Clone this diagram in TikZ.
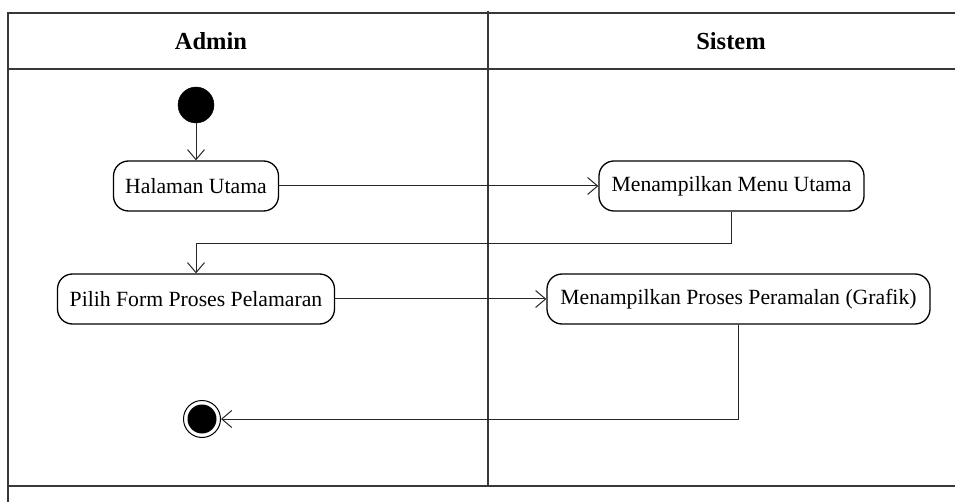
\documentclass[tikz,border=0pt]{standalone}
\usepackage{fontspec}
\setmainfont{Liberation Serif}
\usetikzlibrary{arrows.meta}

\tikzset{
  lane/.style={draw=black!78, line width=2pt},
  lanehead/.style={font=\fontsize{24.5}{29}\selectfont\bfseries, anchor=base, inner sep=0pt},
  act/.style={draw=black, rounded corners=15pt, line width=1.3pt, minimum height=50pt,
              inner sep=0pt, font=\fontsize{21.7}{26}\selectfont},
  flow/.style={draw=black!85, line width=1pt, -{Straight Barb[length=10pt,width=17pt]}},
  startstate/.style={circle, fill=black, draw=black, minimum size=36pt, inner sep=0pt},
}

\begin{document}
\begin{tikzpicture}[x=1pt, y=-1pt]
  \useasboundingbox (0,0) rectangle (955,502);

  % swimlane frame
  \coordinate (tl) at (8,13);
  \coordinate (bl) at (8,502);
  \draw[lane] (bl) -- (tl) -- (955,13);
  \draw[lane] (8,69) -- (955,69);
  \draw[lane] (8,486) -- (955,486);
  \draw[lane] (488,11) -- (488,486);

  % lane titles
  \node[lanehead] (hadmin) at (211,50) {Admin};
  \node[lanehead] (hsistem) at (731,50) {Sistem};

  % activities
  \node[startstate] (start) at (196,105) {};
  \node[act, minimum width=165pt] (halaman) at (196,186) {Halaman Utama};
  \node[act, minimum width=265pt] (menu) at (731.5,186) {Menampilkan Menu Utama};
  \node[act, minimum width=277pt] (pilih) at (196,299) {Pilih Form Proses Pelamaran};
  \node[act, minimum width=383pt] (peram) at (738.5,299) {Menampilkan Proses Peramalan (Grafik)};

  % final state
  \node[circle, draw=black, fill=white, line width=1pt, minimum size=37pt, inner sep=0pt] (end) at (202,419) {};
  \node[circle, fill=black, minimum size=29pt, inner sep=0pt] (endin) at (end.center) {};

  % control flow
  \coordinate (k1) at (0,244);
  \draw[flow] (start) -- (halaman);
  \draw[flow] (halaman.east) -- (menu.west);
  \draw[flow] (menu.south) -- (menu.south |- k1) -| (pilih.north);
  \draw[flow] (pilih.east) -- (peram.west);
  \draw[flow] (peram.south) |- (end.east);
\end{tikzpicture}
\end{document}
